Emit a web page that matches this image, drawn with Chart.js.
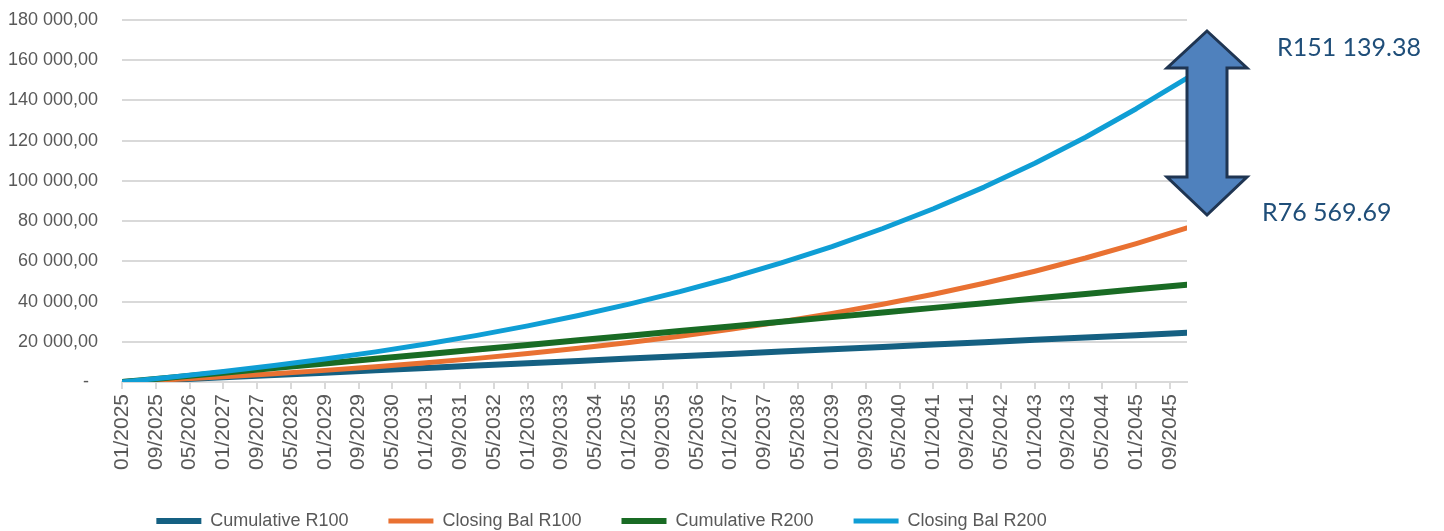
<!DOCTYPE html>
<html>
<head>
<meta charset="utf-8">
<script src="https://cdn.jsdelivr.net/npm/chart.js@4/dist/chart.umd.min.js"></script>
<style>
  html, body { margin: 0; padding: 0; background: #ffffff; }
  #wrap { width: 1444px; height: 531px; }
</style>
</head>
<body>
<div id="wrap"><canvas id="chart" width="1444" height="531"></canvas></div>
<script>
// Month offsets from 01/2025 at which the balances are plotted
const sampleMonths = [0, 12, 24, 36, 48, 60, 72, 84, 96, 108, 120, 132, 144, 156, 168, 180, 192, 204, 216, 228, 240, 252];

// Series values (Rand)
const cumulativeR100 = [0, 1160, 2330, 3490, 4660, 5820, 6980, 8150, 9310, 10480, 11640, 12800, 13970, 15130, 16300, 17460, 18620, 19790, 20950, 22120, 23280, 24450];
const closingBalR100 = [0, 1250, 2620, 4130, 5780, 7590, 9570, 11750, 14130, 16750, 19610, 22760, 26200, 29980, 34120, 38670, 43650, 49100, 55090, 61660, 68850, 76569.69];
const cumulativeR200 = [0, 2300, 4610, 6910, 9220, 11520, 13820, 16130, 18430, 20740, 23040, 25340, 27650, 29950, 32260, 34560, 36860, 39170, 41470, 43780, 46080, 48300];
const closingBalR200 = [0, 2480, 5190, 8160, 11420, 14990, 18910, 23200, 27910, 33070, 38730, 44930, 51730, 59190, 67360, 76330, 86160, 96920, 108740, 121690, 135880, 151139.38];

// Date labels shown along the horizontal axis, one every 8 months
const tickLabels = ['01/2025', '09/2025', '05/2026', '01/2027', '09/2027', '05/2028', '01/2029', '09/2029',
  '05/2030', '01/2031', '09/2031', '05/2032', '01/2033', '09/2033', '05/2034', '01/2035',
  '09/2035', '05/2036', '01/2037', '09/2037', '05/2038', '01/2039', '09/2039', '05/2040',
  '01/2041', '09/2041', '05/2042', '01/2043', '09/2043', '05/2044', '01/2045', '09/2045'];
const tickStepMonths = 8;
const lastMonth = 252;

const seriesNames = ['Cumulative R100', 'Closing Bal R100', 'Cumulative R200', 'Closing Bal R200'];
const seriesColors = ['#156082', '#E97132', '#196B24', '#0F9ED5'];
const seriesWidths = [6, 5, 6, 5];

const labelFont = "'Liberation Sans', Arial, sans-serif";

function groupThousands(intStr) {
  return intStr.replace(/\B(?=(\d{3})+(?!\d))/g, ' ');
}
function axisAmount(v) {
  if (v === 0) return '-\u2002';
  return groupThousands(String(Math.round(v))) + ',00';
}
function randAmount(v) {
  const parts = v.toFixed(2).split('.');
  return 'R' + groupThousands(parts[0]) + '.' + parts[1];
}

function pointsOf(values) {
  return values.map((y, i) => ({ x: sampleMonths[i], y: y }));
}

const allSeries = [cumulativeR100, closingBalR100, cumulativeR200, closingBalR200];
const datasets = allSeries.map((vals, i) => ({
  label: seriesNames[i],
  data: pointsOf(vals),
  borderColor: seriesColors[i],
  backgroundColor: seriesColors[i],
  borderWidth: seriesWidths[i],
  borderCapStyle: 'round',
  borderJoinStyle: 'round',
  pointRadius: 0,
  pointHoverRadius: 0,
  pointStyle: 'line',
  tension: 0,
  fill: false,
  order: allSeries.length - i   // later series are painted on top
}));

// Nudge the legend row slightly to the right of the default centre
const legendShift = {
  id: 'legendShift',
  afterLayout(chart) {
    if (chart.legend) {
      chart.legend.left += 6;
      chart.legend.right += 6;
    }
  }
};

// Double-headed arrow between the two closing balances, with their values
const gapArrow = {
  id: 'gapArrow',
  afterDatasetsDraw(chart) {
    const { ctx, chartArea } = chart;
    const cx = chartArea.right + 20;
    const shaft = 20, head = 40;
    const topTip = chartArea.top + 11, topBase = chartArea.top + 48;
    const botBase = chartArea.top + 157, botTip = chartArea.top + 195;
    ctx.save();
    ctx.beginPath();
    ctx.moveTo(cx, topTip);
    ctx.lineTo(cx + head, topBase);
    ctx.lineTo(cx + shaft, topBase);
    ctx.lineTo(cx + shaft, botBase);
    ctx.lineTo(cx + head, botBase);
    ctx.lineTo(cx, botTip);
    ctx.lineTo(cx - head, botBase);
    ctx.lineTo(cx - shaft, botBase);
    ctx.lineTo(cx - shaft, topBase);
    ctx.lineTo(cx - head, topBase);
    ctx.closePath();
    ctx.fillStyle = '#4F81BD';
    ctx.fill();
    ctx.lineWidth = 3;
    ctx.lineJoin = 'miter';
    ctx.strokeStyle = '#1F3552';
    ctx.stroke();

    ctx.fillStyle = '#1F4E79';
    ctx.font = "25px Lato, 'Open Sans', sans-serif";
    ctx.textBaseline = 'middle';
    ctx.textAlign = 'left';
    const hi = closingBalR200[closingBalR200.length - 1];
    const lo = closingBalR100[closingBalR100.length - 1];
    ctx.fillText(randAmount(hi), chartArea.right + 90, chartArea.top + 28);
    ctx.fillText(randAmount(lo), chartArea.right + 75, chartArea.top + 193);
    ctx.restore();
  }
};

new Chart(document.getElementById('chart'), {
  type: 'line',
  data: { datasets },
  plugins: [legendShift, gapArrow],
  options: {
    responsive: false,
    animation: false,
    devicePixelRatio: 1,
    events: [],
    layout: { padding: { left: 4, right: 257, top: 20, bottom: 0 } },
    scales: {
      x: {
        type: 'linear',
        min: 0,
        max: lastMonth,
        afterBuildTicks(scale) {
          scale.ticks = tickLabels.map((_, i) => ({ value: i * tickStepMonths }));
        },
        afterFit(scale) { scale.height = 90; },
        ticks: {
          autoSkip: false,
          minRotation: 90,
          maxRotation: 90,
          padding: 5,
          color: '#595959',
          font: { family: labelFont, size: 21 },
          callback: (value, index) => tickLabels[index]
        },
        grid: { drawOnChartArea: false, drawTicks: true, tickLength: 7, color: '#D9D9D9', lineWidth: 2 },
        border: { display: true, color: '#D9D9D9', width: 2 }
      },
      y: {
        min: 0,
        max: 180000,
        afterFit(scale) {
          scale.width = 118;
          scale.paddingTop = 0;
          scale.paddingBottom = 0;
        },
        ticks: {
          stepSize: 20000,
          padding: 24,
          color: '#595959',
          font: { family: labelFont, size: 18 },
          callback: (v) => axisAmount(v)
        },
        grid: { color: '#D9D9D9', lineWidth: 2, drawTicks: false },
        border: { display: false }
      }
    },
    plugins: {
      tooltip: { enabled: false },
      legend: {
        position: 'bottom',
        maxHeight: 59,
        labels: {
          usePointStyle: true,
          pointStyleWidth: 45,
          boxHeight: 6,
          padding: 40,
          color: '#595959',
          font: { family: labelFont, size: 18 },
          sort: (a, b) => a.datasetIndex - b.datasetIndex
        }
      }
    }
  }
});
</script>
</body>
</html>
